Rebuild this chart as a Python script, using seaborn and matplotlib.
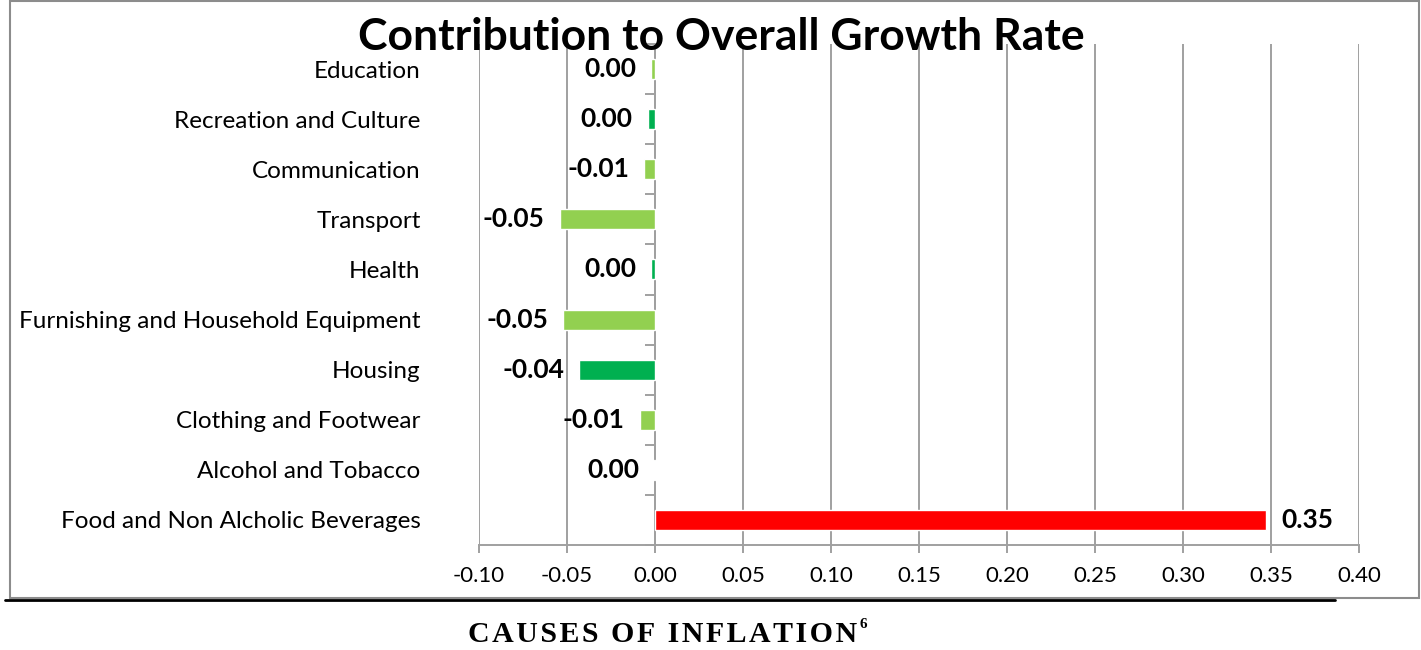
import numpy as np
import pandas as pd
import seaborn as sns
import matplotlib.pyplot as plt
from matplotlib.patches import Rectangle
from matplotlib.lines import Line2D
from matplotlib.ticker import FormatStrFormatter

categories = [
    "Education",
    "Recreation and Culture",
    "Communication",
    "Transport",
    "Health",
    "Furnishing and Household Equipment",
    "Housing",
    "Clothing and Footwear",
    "Alcohol and Tobacco",
    "Food and Non Alcholic Beverages",
]
contribution = [-0.002, -0.004, -0.006, -0.054, -0.002, -0.052, -0.043, -0.0085, -0.0003, 0.347]
bar_colors = ["#92D050", "#00B050", "#92D050", "#92D050", "#00B050",
              "#92D050", "#00B050", "#92D050", "#92D050", "#FF0000"]
x_ticks = [-0.10, -0.05, 0.00, 0.05, 0.10, 0.15, 0.20, 0.25, 0.30, 0.35, 0.40]

GREY = "#A0A0A0"

sns.set_theme(style="white")
plt.rcParams["font.family"] = ["Lato", "DejaVu Sans"]
plt.rcParams["axes.unicode_minus"] = False
plt.rcParams["text.color"] = "black"

fig = plt.figure(figsize=(14.21, 6.5), dpi=100)
ax = fig.add_axes([479 / 1421, 105 / 650, 880 / 1421, 501 / 650])

df = pd.DataFrame({"category": categories, "value": contribution})
sns.barplot(data=df, x="value", y="category", hue="category", palette=bar_colors,
            legend=False, width=0.4, orient="h", saturation=1, ax=ax)

ax.set_xlim(-0.10, 0.40)
ax.set_xticks(x_ticks)
ax.xaxis.set_major_formatter(FormatStrFormatter("%.2f"))
ax.grid(axis="x", color=GREY, linewidth=1.4)
ax.grid(axis="y", visible=False)
ax.set_axisbelow(True)
ax.set_xlabel("")
ax.set_ylabel("")

for side in ["top", "right", "left"]:
    ax.spines[side].set_visible(False)
ax.spines["bottom"].set_color(GREY)
ax.spines["bottom"].set_linewidth(1.4)

ax.tick_params(axis="x", bottom=True, length=6, width=1.4, color=GREY,
               labelsize=16, pad=9, labelcolor="black")
ax.tick_params(axis="y", left=False, length=0, pad=42, labelsize=17.5, labelcolor="black")

# category axis sits at x = 0 with ticks between categories
zero_axis = ax.secondary_yaxis(0.2)
zero_axis.set_yticks(np.arange(-0.5, len(categories), 1))
zero_axis.tick_params(axis="y", left=True, length=7, width=1.4, color=GREY, labelleft=False)
zero_axis.spines["left"].set_color(GREY)
zero_axis.spines["left"].set_linewidth(1.4)


def label_fmt(v):
    return f"{v:.2f}" if abs(v) >= 0.005 else "0.00"


for container in ax.containers:
    ax.bar_label(container, fmt=label_fmt, padding=11, fontsize=19,
                 fontweight="bold", color="black")

fig.text(721 / 1421, 600 / 650, "Contribution to Overall Growth Rate",
         ha="center", va="baseline", fontsize=32, fontweight="bold", color="black")

# chart frame and page rule
fig.add_artist(Rectangle((10 / 1421, 52 / 650), 1409 / 1421, 597 / 650,
                         transform=fig.transFigure, fill=False,
                         edgecolor="#8C8C8C", linewidth=1.5))
fig.add_artist(Line2D([5 / 1421, 1335 / 1421], [50 / 650, 50 / 650],
                      transform=fig.transFigure, color="black", linewidth=2))

footer_title = "\u200a".join("CAUSES OF INFLATION")
footer = fig.text(468 / 1421, 8 / 650, footer_title, ha="left", va="baseline",
                  fontsize=21.5, fontweight="bold", color="black",
                  family=["Liberation Serif", "DejaVu Serif"])
fig.canvas.draw()
bb = footer.get_window_extent().transformed(fig.transFigure.inverted())
fig.text(bb.x1 + 2 / 1421, 22 / 650, "6", ha="left", va="baseline", fontsize=11,
         fontweight="bold", color="black", family=["Liberation Serif", "DejaVu Serif"])

plt.savefig("out.png", dpi=100)
plt.close()
